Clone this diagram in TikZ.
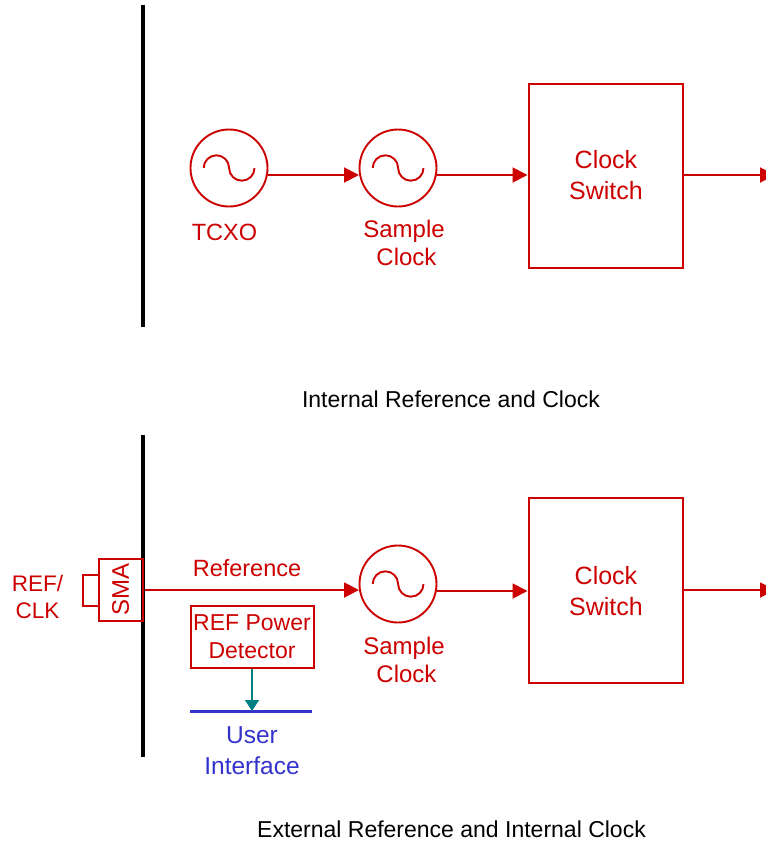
\documentclass[tikz,border=0pt]{standalone}
\usepackage{fontspec}
\setmainfont{Liberation Sans}
\usetikzlibrary{arrows.meta,calc}
\definecolor{cred}{HTML}{CC0000}
\definecolor{cblue}{HTML}{3333CC}
\definecolor{cteal}{HTML}{008080}
\tikzset{
 x=1pt,y=1pt,
 rline/.style={draw=cred,line width=1.9pt},
 sig/.style={rline,-{Triangle[length=15pt,width=15pt,fill=cred]}},
 osc/.style={circle,draw=cred,line width=1.9pt,minimum size=77pt,inner sep=0pt},
 rbox/.style={draw=cred,line width=1.9pt,inner sep=0pt,anchor=north west},
 rtext/.style={text=cred,font=\fontsize{24}{27.5}\selectfont,align=center,inner sep=0pt},
 swtext/.style={text=cred,font=\fontsize{25}{31}\selectfont,align=center,inner sep=0pt},
 btext/.style={text=cblue,font=\fontsize{24.5}{31}\selectfont,align=center,inner sep=0pt},
 ktext/.style={text=black,font=\fontsize{23}{28}\selectfont,inner sep=0pt},
 wall/.style={draw=black,line width=3.5pt},
}
\newcommand{\sinewave}[1]{\draw[rline] ($(#1)+(-25.3,0)$) arc[start angle=180,end angle=0,radius=12.7] arc[start angle=180,end angle=360,radius=12.7];}
\begin{document}
\begin{tikzpicture}
\useasboundingbox (0,0) rectangle (766,-841);
% walls
\coordinate (w1a) at (143,-5); \coordinate (w1b) at (143,-327);
\coordinate (w2a) at (143,-435); \coordinate (w2b) at (143,-757);
\draw[wall] (w1a) -- (w1b);
\draw[wall] (w2a) -- (w2b);
% top
\node[osc] (tcxo) at (229,-168) {};
\node[osc] (samp1) at (398,-168) {};
\sinewave{tcxo}
\sinewave{samp1}
\node[rbox,minimum width=154pt,minimum height=184pt] (sw1) at (528,-83) {};
\node[swtext] (sw1t) at (606,-175) {Clock\\Switch};
\node[rtext,font=\fontsize{23.5}{27}\selectfont] (tcxot) at (224.5,-232) {TCXO};
\node[rtext] (samp1t) at (404,-243) {Sample\\\hspace{5pt}Clock};
\coordinate (tcxoout) at (268,-175); \coordinate (s1in) at (359,-175);
\coordinate (s1out) at (437,-175); \coordinate (sw1in) at (527.5,-175);
\coordinate (sw1out) at (682,-175); \coordinate (e1) at (775,-175);
\draw[sig] (tcxoout) -- (s1in);
\draw[sig] (s1out) -- (sw1in);
\draw[sig] (sw1out) -- (e1);
\node[ktext] (cap1) at (451,-399) {Internal Reference and Clock};
% bottom
\node[osc] (samp2) at (398,-584) {};
\sinewave{samp2}
\node[rbox,minimum width=154pt,minimum height=185pt] (sw2) at (528,-497) {};
\node[swtext] (sw2t) at (606,-591) {Clock\\Switch};
\node[rtext] (samp2t) at (404,-660) {Sample\\\hspace{5pt}Clock};
\node[rbox,minimum width=44pt,minimum height=62pt] (sma) at (98,-558) {};
\node[rbox,minimum width=16pt,minimum height=31pt] (smas) at (82,-574) {};
\node[rtext,rotate=90] (smat) at (120.5,-589) {SMA};
\node[rtext,font=\fontsize{22.5}{27}\selectfont] (ref) at (37.5,-596.5) {REF/\\CLK};
\node[rtext,font=\fontsize{23.5}{27}\selectfont] (reft) at (247,-568) {Reference};
\node[rbox,minimum width=123pt,minimum height=62pt] (det) at (190,-605) {};
\node[rtext,font=\fontsize{23}{27.5}\selectfont] (dett) at (252,-636.5) {REF Power\\Detector};
\coordinate (s2src) at (145,-590); \coordinate (s2in) at (359,-590);
\coordinate (s2out) at (437,-591); \coordinate (sw2in) at (527.5,-591);
\coordinate (sw2out) at (682,-590); \coordinate (e2) at (775,-590);
\draw[sig] (s2src) -- (s2in);
\draw[sig] (s2out) -- (sw2in);
\draw[sig] (sw2out) -- (e2);
\coordinate (busl) at (190,-711); \coordinate (busr) at (312,-711);
\coordinate (busm) at (252,-711);
\draw[draw=cblue,line width=3pt] (busl) -- (busr);
\draw[draw=cteal,line width=1.4pt,-{Triangle[length=11pt,width=14pt,fill=cteal]}] (det.south -| busm) -- (busm);
\node[btext] (ui) at (252,-750.5) {User\\Interface};
\node[ktext] (cap2) at (451.5,-829) {External Reference and Internal Clock};
\end{tikzpicture}
\end{document}
